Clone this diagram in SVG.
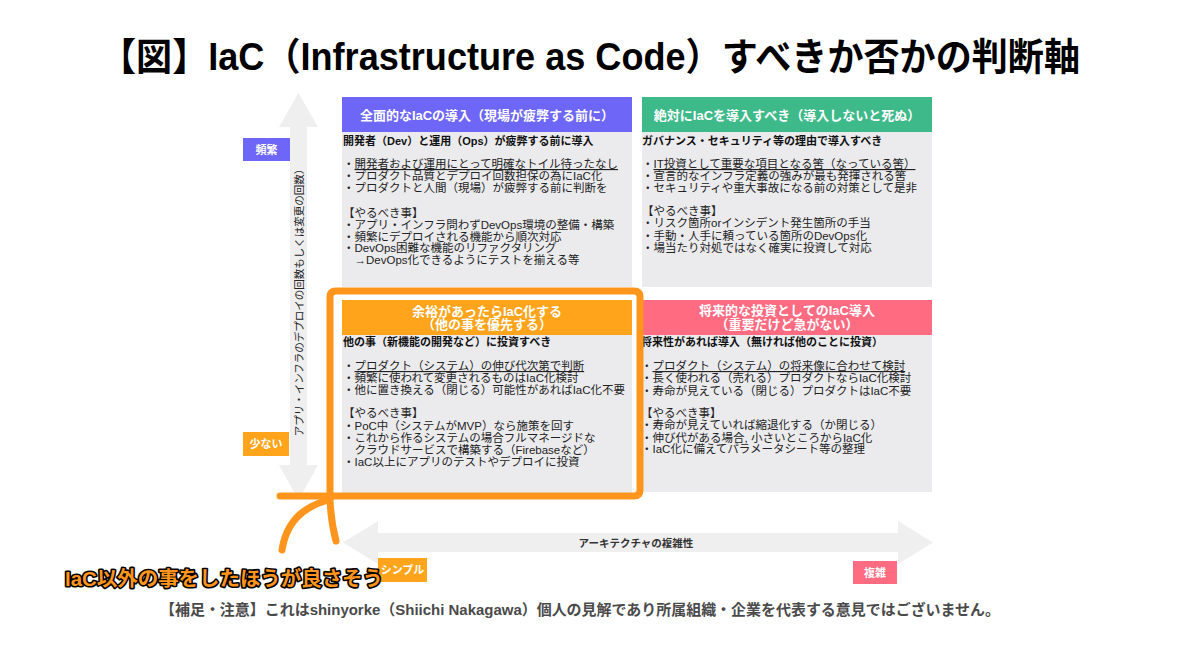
<svg xmlns="http://www.w3.org/2000/svg" width="1200" height="661" viewBox="0 0 1200 661">
<style>
text{font-family:"Liberation Sans","Noto Sans CJK JP",sans-serif}
.hd{font-size:13px;font-weight:bold;fill:#fff;text-anchor:middle}
.tt{font-size:11px;font-weight:bold;fill:#111}
.ln{font-size:11.5px;fill:#222}
.u{text-decoration:underline}
.body{fill:#ebebee}
.tag{font-size:11px;font-weight:bold;fill:#fff;text-anchor:middle}
.hl{fill:none;stroke:#ff951d;stroke-width:7;stroke-linecap:round;stroke-linejoin:round}
</style>
<rect width="1200" height="661" fill="#fff"/>
<text x="100" y="70" font-size="38" font-weight="bold" fill="#000" textLength="980" lengthAdjust="spacingAndGlyphs">【図】IaC（Infrastructure as Code）すべきか否かの判断軸</text>

<g id="axes">
<path d="M298.5 93 L318 127 L307 127 L307 465 L318 465 L298.5 500 L279 465 L290 465 L290 127 L279 127 Z" fill="#efefef"/>
<text transform="translate(299 300) rotate(-90)" font-size="10.5" fill="#222" text-anchor="middle" dominant-baseline="central">アプリ・インフラのデプロイの回数もしくは変更の回数）</text>
<path d="M343 542.5 L378 521 L378 533 L898 533 L898 521 L933 542.5 L898 564 L898 552 L378 552 L378 564 Z" fill="#efefef"/>
<text x="636" y="546.5" font-size="10.5" font-weight="bold" fill="#333" text-anchor="middle">アーキテクチャの複雑性</text>
</g>

<g id="tag-freq"><rect x="243" y="138" width="47" height="23" fill="#6d66f6"/><text class="tag" x="266.5" y="153.5">頻繁</text></g>
<g id="tag-few"><rect x="243" y="432" width="46" height="24" fill="#ffa41b"/><text class="tag" x="266" y="448">少ない</text></g>
<g id="tag-simple"><rect x="378" y="558" width="49" height="24" fill="#ffa41b"/><text class="tag" x="402.5" y="574">シンプル</text></g>
<g id="tag-complex"><rect x="853" y="561" width="44" height="23" fill="#ff6b81"/><text class="tag" x="875" y="576.5">複雑</text></g>

<g id="q-tl">
<rect class="body" x="342" y="132" width="290" height="155"/>
<rect x="342" y="97" width="290" height="35" fill="#6d66f6"/>
<text class="hd" x="487" y="120">全面的なIaCの導入（現場が疲弊する前に）</text>
<text class="tt" x="343" y="145">開発者（Dev）と運用（Ops）が疲弊する前に導入</text>
<text class="ln" x="343" y="168">・<tspan class="u">開発者および運用にとって明確なトイル待ったなし</tspan></text>
<text class="ln" x="343" y="180">・プロダクト品質とデプロイ回数担保の為にIaC化</text>
<text class="ln" x="343" y="192">・プロダクトと人間（現場）が疲弊する前に判断を</text>
<text class="ln" x="343" y="217">【やるべき事】</text>
<text class="ln" x="343" y="229">・アプリ・インフラ問わずDevOps環境の整備・構築</text>
<text class="ln" x="343" y="241">・頻繁にデプロイされる機能から順次対応</text>
<text class="ln" x="343" y="252">・DevOps困難な機能のリファクタリング</text>
<text class="ln" x="343" y="264">　→DevOps化できるようにテストを揃える等</text>
</g>

<g id="q-tr">
<rect class="body" x="642" y="132" width="290" height="155"/>
<rect x="642" y="97" width="290" height="35" fill="#3db98a"/>
<text class="hd" x="787" y="120">絶対にIaCを導入すべき（導入しないと死ぬ）</text>
<text class="tt" x="642" y="145">ガバナンス・セキュリティ等の理由で導入すべき</text>
<text class="ln" x="642" y="168">・<tspan class="u">IT投資として重要な項目となる筈（なっている筈）</tspan></text>
<text class="ln" x="642" y="180">・宣言的なインフラ定義の強みが最も発揮される筈</text>
<text class="ln" x="642" y="192">・セキュリティや重大事故になる前の対策として是非</text>
<text class="ln" x="642" y="215">【やるべき事】</text>
<text class="ln" x="642" y="227">・リスク箇所orインシデント発生箇所の手当</text>
<text class="ln" x="642" y="240">・手動・人手に頼っている箇所のDevOps化</text>
<text class="ln" x="642" y="252">・場当たり対処ではなく確実に投資して対応</text>
</g>

<g id="q-bl">
<rect class="body" x="342" y="335" width="290" height="158"/>
<rect x="342" y="300" width="290" height="35" fill="#ffa41b"/>
<text class="hd" x="487" y="315.5">余裕があったらIaC化する</text>
<text class="hd" x="487" y="329">（他の事を優先する）</text>
<text class="tt" x="343" y="346">他の事（新機能の開発など）に投資すべき</text>
<text class="ln" x="343" y="370">・<tspan class="u">プロダクト（システム）の伸び代次第で判断</tspan></text>
<text class="ln" x="343" y="382">・頻繁に使われて変更されるものはIaC化検討</text>
<text class="ln" x="343" y="394">・他に置き換える（閉じる）可能性があればIaC化不要</text>
<text class="ln" x="343" y="417">【やるべき事】</text>
<text class="ln" x="343" y="430">・PoC中（システムがMVP）なら施策を回す</text>
<text class="ln" x="343" y="442">・これから作るシステムの場合フルマネージドな</text>
<text class="ln" x="343" y="454">　クラウドサービスで構築する（Firebaseなど）</text>
<text class="ln" x="343" y="466">・IaC以上にアプリのテストやデプロイに投資</text>
</g>

<g id="q-br">
<rect class="body" x="642" y="335" width="290" height="157"/>
<rect x="642" y="300" width="290" height="35" fill="#ff6b81"/>
<text class="hd" x="787" y="315">将来的な投資としてのIaC導入</text>
<text class="hd" x="787" y="329">（重要だけど急がない）</text>
<text class="tt" x="641" y="346">将来性があれば導入（無ければ他のことに投資）</text>
<text class="ln" x="641" y="370">・<tspan class="u">プロダクト（システム）の将来像に合わせて検討</tspan></text>
<text class="ln" x="641" y="382">・長く使われる（売れる）プロダクトならIaC化検討</text>
<text class="ln" x="641" y="395">・寿命が見えている（閉じる）プロダクトはIaC不要</text>
<text class="ln" x="641" y="417">【やるべき事】</text>
<text class="ln" x="641" y="429">・寿命が見えていれば縮退化する（か閉じる）</text>
<text class="ln" x="641" y="442">・伸び代がある場合, 小さいところからIaC化</text>
<text class="ln" x="641" y="453">・IaC化に備えてパラメータシート等の整理</text>
</g>

<g id="highlight">
<path class="hl" d="M280 496 H634 Q640 496 640 490 V297 Q640 291 634 291 H336 Q330 291 330 297 V500 Q331 522 336 541"/>
<path class="hl" d="M282 550 C285 530 295 510 325 501"/>
<text x="65" y="586" font-size="20" font-weight="bold" fill="#ff951d" stroke="#000" stroke-width="3.2" paint-order="stroke" stroke-linejoin="round" textLength="318" lengthAdjust="spacingAndGlyphs">IaC以外の事をしたほうが良さそう</text>
</g>

<text x="160" y="615" font-size="15" font-weight="bold" fill="#4a4a4a" textLength="840" lengthAdjust="spacingAndGlyphs">【補足・注意】これはshinyorke（Shiichi Nakagawa）個人の見解であり所属組織・企業を代表する意見ではございません。</text>
</svg>
